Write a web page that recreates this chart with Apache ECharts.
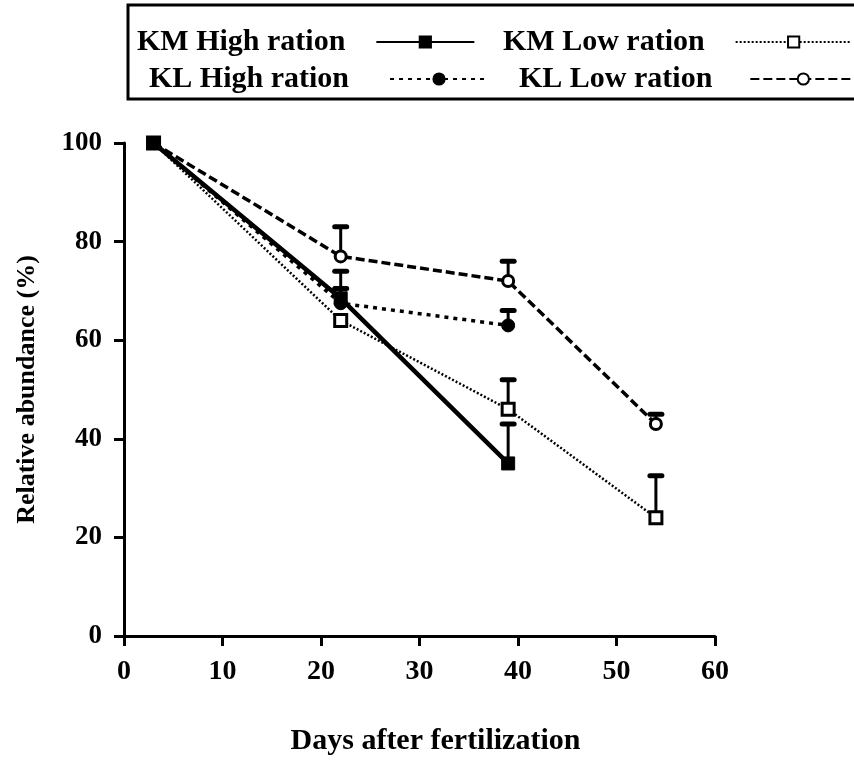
<!DOCTYPE html>
<html>
<head>
<meta charset="utf-8">
<script src="https://cdn.jsdelivr.net/npm/echarts@6/dist/echarts.min.js"></script>
<style>
  html, body { margin: 0; padding: 0; background: #fff; }
  #chart { width: 854px; height: 760px; }
</style>
</head>
<body>
<div id="chart"></div>
<script>
// days after fertilization
const days = [3, 22, 39, 54];
// relative abundance (%), null = no point
const kmHigh = [100, 68.5, 35, null];
const kmLow = [100, 64, 46, 24];
const klHigh = [100, 67.5, 63, null];
const klLow = [100, 77, 72, 43];
// upper end of the error bars
const kmHighErr = [null, 74, 43, null];
const kmLowErr = [null, null, 52, 32.5];
const klHighErr = [null, 70.5, 66, null];
const klLowErr = [null, 83, 76, 45];
const xTicks = [0, 10, 20, 30, 40, 50, 60];
const yTicks = [0, 20, 40, 60, 80, 100];

const font = "'Liberation Serif', 'DejaVu Serif', serif";

function pairs(vals) {
  let out = [];
  for (let i = 0; i < days.length; i++) {
    if (vals[i] != null) out.push([days[i], vals[i]]);
  }
  return out;
}

let errData = [];
[[kmHigh, kmHighErr], [kmLow, kmLowErr], [klHigh, klHighErr], [klLow, klLowErr]].forEach(function (s) {
  for (let i = 0; i < days.length; i++) {
    if (s[1][i] != null) errData.push([days[i], s[0][i], s[1][i]]);
  }
});

function legendAt(name, left, top, gap, w) {
  return {
    data: [name],
    left: left,
    top: top,
    align: "right",
    itemWidth: w,
    itemHeight: 14,
    selectedMode: false,
    textStyle: {
      fontFamily: font,
      fontWeight: "bold",
      fontSize: 30,
      color: "#000",
      padding: [0, gap, 0, 0],
    },
  };
}

var myChart = echarts.init(document.getElementById("chart"));
myChart.setOption({
  animation: false,
  backgroundColor: "#fff",
  graphic: [
    {
      type: "rect",
      shape: { x: 128, y: 5, width: 740, height: 94 },
      style: { fill: "none", stroke: "#000", lineWidth: 3 },
    },
  ],
  legend: [
    legendAt("KM High ration", 132, 22, 26, 98),
    legendAt("KM Low ration", 498, 22, 26, 116),
    legendAt("KL High ration", 144, 59, 36, 98),
    legendAt("KL Low ration", 514, 59, 33, 106),
  ],
  grid: {
    left: 124,
    right: 139,
    top: 143,
    bottom: 124,
    outerBoundsMode: "none",
  },
  xAxis: {
    type: "value",
    min: 0,
    max: 60,
    interval: 10,
    name: "Days after fertilization",
    nameLocation: "middle",
    nameGap: 90,
    nameTextStyle: {
      fontFamily: font,
      fontWeight: "bold",
      fontSize: 30,
      color: "#000",
      padding: [0, 0, 0, 32],
    },
    axisLine: { lineStyle: { color: "#000", width: 3 } },
    axisTick: { length: 10, lineStyle: { color: "#000", width: 3 } },
    axisLabel: {
      margin: 22,
      fontFamily: font,
      fontWeight: "bold",
      fontSize: 28,
      color: "#000",
      customValues: xTicks,
    },
    splitLine: { show: false },
  },
  yAxis: {
    type: "value",
    min: 0,
    max: 100,
    interval: 20,
    name: "Relative abundance (%)",
    nameLocation: "middle",
    nameGap: 84,
    nameTextStyle: { fontFamily: font, fontWeight: "bold", fontSize: 26, color: "#000" },
    axisLine: { show: true, lineStyle: { color: "#000", width: 3 } },
    axisTick: { show: true, length: 10, lineStyle: { color: "#000", width: 3 } },
    axisLabel: {
      margin: 22,
      fontFamily: font,
      fontWeight: "bold",
      fontSize: 27,
      color: "#000",
      customValues: yTicks,
    },
    splitLine: { show: false },
  },
  series: [
    {
      name: "err",
      type: "custom",
      data: errData,
      z: 1,
      renderItem: function (params, api) {
        let p0 = api.coord([api.value(0), api.value(1)]);
        let p1 = api.coord([api.value(0), api.value(2)]);
        return {
          type: "group",
          children: [
            {
              type: "line",
              shape: { x1: p0[0], y1: p0[1], x2: p1[0], y2: p1[1] },
              style: { stroke: "#000", lineWidth: 3 },
            },
            {
              type: "line",
              shape: { x1: p1[0] - 6, y1: p1[1], x2: p1[0] + 6, y2: p1[1] },
              style: { stroke: "#000", lineWidth: 5, lineCap: "round" },
            },
          ],
        };
      },
    },
    {
      name: "KL Low ration",
      type: "line",
      data: pairs(klLow),
      symbol: "circle",
      symbolSize: 11,
      z: 3,
      lineStyle: { color: "#000", width: 3.5, type: [9, 4] },
      itemStyle: { color: "#fff", borderColor: "#000", borderWidth: 3 },
    },
    {
      name: "KL High ration",
      type: "line",
      data: pairs(klHigh),
      symbol: "circle",
      symbolSize: 13,
      z: 3,
      lineStyle: { color: "#000", width: 3.5, type: [4, 5] },
      itemStyle: { color: "#000", borderColor: "#000", borderWidth: 1 },
    },
    {
      name: "KM Low ration",
      type: "line",
      data: pairs(kmLow),
      symbol: "rect",
      symbolSize: 12,
      z: 3,
      lineStyle: { color: "#000", width: 2.5, type: [2, 2] },
      itemStyle: { color: "#fff", borderColor: "#000", borderWidth: 3 },
    },
    {
      name: "KM High ration",
      type: "line",
      data: pairs(kmHigh),
      symbol: "rect",
      symbolSize: 13,
      z: 4,
      lineStyle: { color: "#000", width: 4.5 },
      itemStyle: { color: "#000", borderColor: "#000", borderWidth: 1 },
    },
  ],
});
</script>
</body>
</html>
